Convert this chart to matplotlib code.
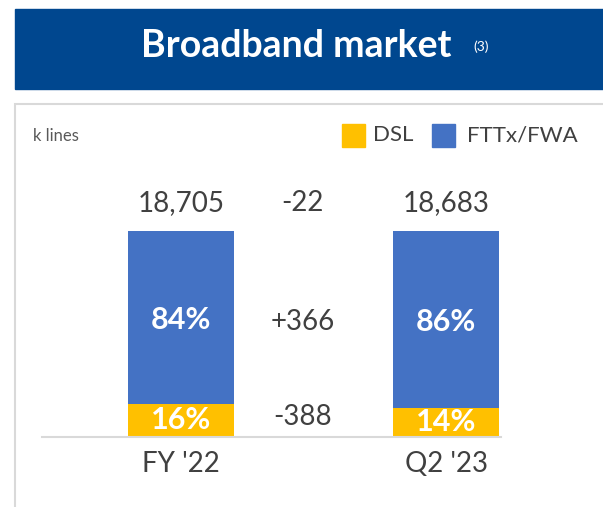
import numpy as np
import matplotlib.pyplot as plt
from matplotlib.patches import Rectangle

# data
periods = ["FY '22", "Q2 '23"]
totals = [18705, 18683]
dsl_share = [0.16, 0.14]
fttx_share = [0.84, 0.86]
deltas = {"total": "-22", "fttx": "+366", "dsl": "-388"}

BLUE = "#4472C4"
YELLOW = "#FFC000"
HEADER = "#00478F"
TXT = "#404040"

plt.rcParams['font.family'] = ['Lato', 'DejaVu Sans']

W, H = 603, 507
fig = plt.figure(figsize=(W / 100, H / 100), dpi=100)

def fx(px):
    return px / W

def fy(py):
    return 1 - py / H

# header band
fig.patches.append(Rectangle((fx(15), fy(89)), fx(603 - 15), 80 / H,
                             transform=fig.transFigure, color=HEADER, zorder=-5))
fig.text(fx(296), fy(46), "Broadband market", color="white", fontsize=27,
         fontweight="bold", ha="center", va="center")
fig.text(fx(481), fy(47), "(3)", color="white", fontsize=10, ha="center", va="center")

# panel border
fig.patches.append(Rectangle((fx(15), fy(530)), fx(640), (530 - 104) / H,
                             transform=fig.transFigure, facecolor="white",
                             edgecolor="#D9D9D9", lw=1.5, zorder=-5))

fig.text(fx(33), fy(136), "k lines", color="#595959", fontsize=12, ha="left", va="center")

# legend
for x0, tx, col, lab in [(342, 373, YELLOW, "DSL"), (432, 467, BLUE, "FTTx/FWA")]:
    fig.patches.append(Rectangle((fx(x0), fy(147)), fx(23), 23 / H,
                                 transform=fig.transFigure, color=col, zorder=-4))
    fig.text(fx(tx), fy(135), lab, color=TXT, fontsize=16, ha="left", va="center")

# bars
ax = fig.add_axes([fx(42), fy(437), fx(501 - 42), (437 - 231) / H], zorder=5)
x = np.arange(len(periods))
width = 106 / 265
ax.bar(x, dsl_share, width, color=YELLOW, zorder=2)
ax.bar(x, fttx_share, width, bottom=dsl_share, color=BLUE, zorder=2)
ax.set_xlim(-(181 - 42) / 265, 1 + (501 - 446) / 265)
ax.set_ylim(0, 1)
for s in ["top", "right", "left"]:
    ax.spines[s].set_visible(False)
ax.spines["bottom"].set_color("#D9D9D9")
ax.spines["bottom"].set_linewidth(1.5)
ax.set_yticks([])
ax.set_xticks(x)
ax.set_xticklabels(periods, fontsize=20, color=TXT)
ax.tick_params(axis="x", length=0, pad=10)
ax.patch.set_alpha(0)

for i in range(len(periods)):
    ax.text(x[i], 1.135, f"{totals[i]:,}", ha="center", va="center",
            fontsize=20, color=TXT, clip_on=False)
    ax.text(x[i], dsl_share[i] + fttx_share[i] / 2 - 0.01, f"{fttx_share[i]:.0%}",
            ha="center", va="center", fontsize=22, fontweight="bold", color="white")
    ax.text(x[i], dsl_share[i] / 2 + 0.003, f"{dsl_share[i]:.0%}", ha="center", va="center",
            fontsize=22, fontweight="bold", color="white")

xm = 0.46
ax.text(xm, 1.135, deltas["total"], ha="center", va="center", fontsize=20, color=TXT, clip_on=False)
ax.text(xm, 0.56, deltas["fttx"], ha="center", va="center", fontsize=20, color=TXT)
ax.text(xm, 0.095, deltas["dsl"], ha="center", va="center", fontsize=20, color=TXT)

fig.savefig("out.png", dpi=100)
